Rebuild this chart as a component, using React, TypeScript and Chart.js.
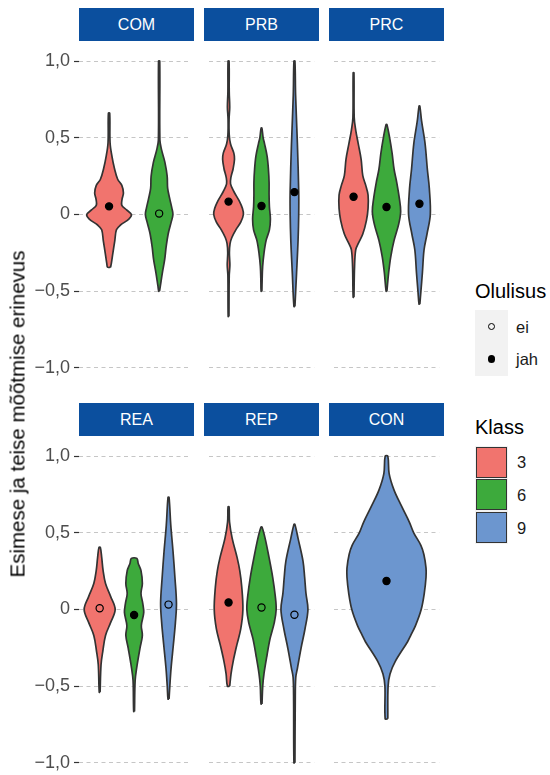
import React, { useEffect, useRef } from "react";
import { Chart, registerables } from "chart.js";

Chart.register(...registerables);

// ---------- data ----------
const FACETS = ["COM", "PRB", "PRC", "REA", "REP", "CON"];
const CLASSES = ["3", "6", "9"];
const CLASS_COLORS = ["#F1746E", "#3DAA3C", "#6C96CF"];
const SIG_LEVELS = ["ei", "jah"];

const Y_TICK_VALUES = [-1, -0.5, 0, 0.5, 1];
const Y_TICK_LABELS = ["\u22121,0", "\u22120,5", "0", "0,5", "1,0"];
const Y_MIN = -1.1;
const Y_MAX = 1.1;

// violin outlines: y values (top -> bottom) and half widths (category units)
const COM_3_y = [0.66, 0.47, 0.38, 0.3, 0.23, 0.19, 0.14, 0.1, 0.06, 0.03, 0.0, -0.03, -0.07, -0.1, -0.17, -0.25, -0.32, -0.344];
const COM_3_w = [0.013, 0.02, 0.057, 0.108, 0.172, 0.255, 0.287, 0.26, 0.255, 0.35, 0.446, 0.395, 0.223, 0.147, 0.115, 0.077, 0.045, 0.03];
const COM_6_y = [1.0, 0.485, 0.42, 0.34, 0.25, 0.17, 0.105, 0.04, 0.0, -0.05, -0.127, -0.21, -0.295, -0.38, -0.464, -0.5];
const COM_6_w = [0.012, 0.015, 0.05, 0.115, 0.16, 0.17, 0.21, 0.255, 0.275, 0.24, 0.18, 0.14, 0.11, 0.064, 0.025, 0.008];

const PRB_3_y = [1.0, 0.8, 0.7, 0.62, 0.52, 0.46, 0.4, 0.36, 0.3, 0.24, 0.2, 0.15, 0.09, 0.04, 0.0, -0.05, -0.1, -0.15, -0.19, -0.25, -0.33, -0.4, -0.665];
const PRB_3_w = [0.015, 0.02, 0.035, 0.015, 0.02, 0.06, 0.16, 0.18, 0.14, 0.07, 0.06, 0.16, 0.32, 0.42, 0.45, 0.37, 0.22, 0.1, 0.045, 0.025, 0.04, 0.02, 0.012];
const PRB_6_y = [0.563, 0.5, 0.464, 0.38, 0.295, 0.21, 0.127, 0.05, -0.03, -0.1, -0.169, -0.253, -0.338, -0.42, -0.5];
const PRB_6_w = [0.012, 0.05, 0.09, 0.17, 0.21, 0.23, 0.23, 0.24, 0.27, 0.24, 0.14, 0.075, 0.035, 0.02, 0.012];
const PRB_9_y = [1.0, 0.78, 0.46, 0.15, 0.0, -0.17, -0.38, -0.6];
const PRB_9_w = [0.015, 0.035, 0.09, 0.13, 0.13, 0.11, 0.065, 0.015];

const PRC_3_y = [0.924, 0.63, 0.55, 0.464, 0.36, 0.253, 0.19, 0.127, 0.04, -0.04, -0.127, -0.19, -0.23, -0.34, -0.54];
const PRC_3_w = [0.012, 0.02, 0.065, 0.14, 0.23, 0.28, 0.37, 0.44, 0.44, 0.39, 0.28, 0.14, 0.065, 0.03, 0.012];
const PRC_6_y = [0.587, 0.506, 0.4, 0.295, 0.21, 0.105, 0.02, -0.063, -0.169, -0.274, -0.38, -0.5];
const PRC_6_w = [0.012, 0.09, 0.17, 0.23, 0.31, 0.39, 0.43, 0.37, 0.23, 0.13, 0.065, 0.012];
const PRC_9_y = [0.707, 0.61, 0.464, 0.295, 0.17, 0.0, -0.127, -0.23, -0.38, -0.5, -0.584];
const PRC_9_w = [0.012, 0.065, 0.17, 0.24, 0.3, 0.33, 0.23, 0.14, 0.09, 0.045, 0.012];

const REA_3_y = [0.405, 0.338, 0.253, 0.169, 0.084, 0.0, -0.084, -0.169, -0.274, -0.36, -0.54];
const REA_3_w = [0.02, 0.06, 0.1, 0.17, 0.32, 0.45, 0.32, 0.17, 0.09, 0.04, 0.012];
const REA_6_y = [0.333, 0.3, 0.253, 0.17, 0.105, 0.042, -0.02, -0.105, -0.169, -0.253, -0.38, -0.464, -0.665];
const REA_6_w = [0.08, 0.12, 0.2, 0.24, 0.2, 0.25, 0.28, 0.21, 0.24, 0.17, 0.075, 0.03, 0.012];
const REA_9_y = [0.732, 0.55, 0.38, 0.21, 0.04, -0.084, -0.23, -0.38, -0.5, -0.584];
const REA_9_w = [0.015, 0.065, 0.13, 0.185, 0.23, 0.2, 0.14, 0.075, 0.037, 0.015];

const REP_3_y = [0.669, 0.57, 0.464, 0.338, 0.253, 0.148, 0.0, -0.127, -0.232, -0.338, -0.42, -0.5];
const REP_3_w = [0.015, 0.03, 0.11, 0.26, 0.34, 0.4, 0.435, 0.37, 0.25, 0.14, 0.075, 0.035];
const REP_6_y = [0.538, 0.464, 0.338, 0.21, 0.084, 0.0, -0.084, -0.19, -0.295, -0.42, -0.5, -0.616];
const REP_6_w = [0.015, 0.11, 0.23, 0.34, 0.42, 0.445, 0.39, 0.26, 0.17, 0.075, 0.037, 0.015];
const REP_9_y = [0.555, 0.464, 0.316, 0.21, 0.105, 0.0, -0.127, -0.253, -0.38, -0.443, -0.59, -1.0];
const REP_9_w = [0.015, 0.11, 0.26, 0.31, 0.35, 0.41, 0.32, 0.2, 0.093, 0.04, 0.025, 0.015];

const CON_9_y = [1.0, 0.886, 0.78, 0.675, 0.57, 0.5, 0.42, 0.36, 0.27, 0.21, 0.105, 0.0, -0.105, -0.17, -0.21, -0.338, -0.42, -0.5, -0.713];
const CON_9_w = [0.015, 0.03, 0.085, 0.17, 0.26, 0.31, 0.39, 0.425, 0.45, 0.45, 0.43, 0.395, 0.33, 0.275, 0.24, 0.1, 0.04, 0.018, 0.015];

// means and significance per facet (same order as classes present)
const COM_classes = ["3", "6"];
const COM_means = [0.053, 0.006];
const COM_sig = ["jah", "ei"];
const PRB_classes = ["3", "6", "9"];
const PRB_means = [0.084, 0.055, 0.146];
const PRB_sig = ["jah", "jah", "jah"];
const PRC_classes = ["3", "6", "9"];
const PRC_means = [0.116, 0.049, 0.07];
const PRC_sig = ["jah", "jah", "jah"];
const REA_classes = ["3", "6", "9"];
const REA_means = [0.008, -0.036, 0.032];
const REA_sig = ["ei", "jah", "ei"];
const REP_classes = ["3", "6", "9"];
const REP_means = [0.046, 0.013, -0.034];
const REP_sig = ["jah", "ei", "ei"];
const CON_classes = ["9"];
const CON_means = [0.186];
const CON_sig = ["jah"];

const PANEL_DATA = [
  { classes: COM_classes, means: COM_means, sig: COM_sig, ys: [COM_3_y, COM_6_y], ws: [COM_3_w, COM_6_w] },
  { classes: PRB_classes, means: PRB_means, sig: PRB_sig, ys: [PRB_3_y, PRB_6_y, PRB_9_y], ws: [PRB_3_w, PRB_6_w, PRB_9_w] },
  { classes: PRC_classes, means: PRC_means, sig: PRC_sig, ys: [PRC_3_y, PRC_6_y, PRC_9_y], ws: [PRC_3_w, PRC_6_w, PRC_9_w] },
  { classes: REA_classes, means: REA_means, sig: REA_sig, ys: [REA_3_y, REA_6_y, REA_9_y], ws: [REA_3_w, REA_6_w, REA_9_w] },
  { classes: REP_classes, means: REP_means, sig: REP_sig, ys: [REP_3_y, REP_6_y, REP_9_y], ws: [REP_3_w, REP_6_w, REP_9_w] },
  { classes: CON_classes, means: CON_means, sig: CON_sig, ys: [CON_9_y], ws: [CON_9_w] },
];

// ---------- layout ----------
const FONT = "'Liberation Sans', Arial, Helvetica, sans-serif";
const STRIP_BG = "#0B4F9E";
const COL_LEFT = [79, 204, 329];
const ROW_TOP = [41, 436];
const PANEL_W = 115;
const PANEL_H = 347;
const STRIP_H = 33;

function colorFor(cls: string) {
  return CLASS_COLORS[CLASSES.indexOf(cls)];
}

function buildChart(canvas: HTMLCanvasElement, p: typeof PANEL_DATA[number], axisW: number, showAxis: boolean) {
  const n = p.classes.length;
  const datasets: any[] = [];
  p.classes.forEach((cls, i) => {
    datasets.push({
      data: [{ x: i + 1, y: p.means[i] }],
      showLine: false,
      pointRadius: 3.6,
      pointHoverRadius: 3.6,
      pointBackgroundColor: p.sig[i] === SIG_LEVELS[1] ? "#000000" : "rgba(0,0,0,0)",
      pointBorderColor: "#000000",
      pointBorderWidth: 1.2,
      order: 0,
    });
  });
  p.classes.forEach((cls, i) => {
    const c = i + 1;
    const ys = p.ys[i];
    const ws = p.ws[i];
    const pts: { x: number; y: number }[] = [];
    for (let k = ys.length - 1; k >= 0; k--) pts.push({ x: c + ws[k], y: ys[k] });
    for (let k = 0; k < ys.length; k++) pts.push({ x: c - ws[k], y: ys[k] });
    pts.push({ ...pts[0] });
    datasets.push({
      data: pts,
      borderColor: "#333333",
      borderWidth: 1.7,
      borderJoinStyle: "round",
      backgroundColor: colorFor(cls),
      fill: "shape",
      pointRadius: 0,
      pointHoverRadius: 0,
      tension: 0.35,
      order: 1,
    });
  });

  return new Chart(canvas, {
    type: "line",
    data: { datasets },
    options: {
      animation: false,
      responsive: false,
      devicePixelRatio: 1,
      events: [],
      layout: { padding: 0 },
      plugins: { legend: { display: false }, tooltip: { enabled: false } },
      scales: {
        x: { type: "linear", min: 0.4, max: n + 0.6, display: false },
        y: {
          type: "linear",
          min: Y_MIN,
          max: Y_MAX,
          afterBuildTicks: (s: any) => {
            s.ticks = Y_TICK_VALUES.map((v) => ({ value: v }));
          },
          afterFit: (s: any) => {
            s.width = axisW;
            s.paddingTop = 0;
            s.paddingBottom = 0;
          },
          ticks: {
            display: showAxis,
            callback: (v: any) => Y_TICK_LABELS[Y_TICK_VALUES.indexOf(Number(v))],
            color: "#4d4d4d",
            font: { family: FONT, size: 18 },
            padding: 4,
          },
          grid: {
            color: "#c6c6c6",
            lineWidth: 1,
            drawTicks: showAxis,
            tickLength: 5,
            tickColor: "#333333",
            tickWidth: 1.2,
          },
          border: { display: false, dash: [4, 3.5] },
        },
      },
    } as any,
  });
}

export default function App() {
  const refs = useRef<(HTMLCanvasElement | null)[]>([]);

  useEffect(() => {
    const charts = PANEL_DATA.map((p, i) => {
      const left = i % 3 === 0;
      return buildChart(refs.current[i]!, p, left ? COL_LEFT[0] : 0, left);
    });
    return () => charts.forEach((c) => c.destroy());
  }, []);

  const canvases = PANEL_DATA.map((p, i) => {
    const col = i % 3;
    const row = Math.floor(i / 3);
    const left = col === 0 ? 0 : COL_LEFT[col];
    const width = col === 0 ? COL_LEFT[0] + PANEL_W : PANEL_W;
    return (
      <canvas
        key={"c" + i}
        ref={(el) => {
          refs.current[i] = el;
        }}
        width={width}
        height={PANEL_H}
        style={{ position: "absolute", left, top: ROW_TOP[row], width, height: PANEL_H }}
      />
    );
  });

  const strips = FACETS.map((f, i) => {
    const col = i % 3;
    const row = Math.floor(i / 3);
    return (
      <div
        key={"s" + i}
        style={{
          position: "absolute",
          left: COL_LEFT[col],
          top: ROW_TOP[row] - STRIP_H,
          width: PANEL_W,
          height: STRIP_H,
          background: STRIP_BG,
          color: "#ffffff",
          fontFamily: FONT,
          fontSize: 16,
          display: "flex",
          alignItems: "center",
          justifyContent: "center",
        }}
      >
        {f}
      </div>
    );
  });

  const textBase: React.CSSProperties = { position: "absolute", fontFamily: FONT, color: "#1a1a1a", whiteSpace: "nowrap" };

  return (
    <div style={{ position: "absolute", left: 0, top: 0, width: 550, height: 775, overflow: "hidden", background: "#ffffff" }}>
      {canvases}
      {strips}
      <div
        style={{
          ...textBase,
          left: 17,
          top: 414,
          fontSize: 20.5,
          lineHeight: "21px",
          transform: "translate(-50%, -50%) rotate(-90deg)",
          color: "#000000",
        }}
      >
        Esimese ja teise mõõtmise erinevus
      </div>

      {/* Olulisus legend */}
      <div style={{ ...textBase, left: 475, top: 281, fontSize: 20, lineHeight: "20px", color: "#000" }}>Olulisus</div>
      <div style={{ position: "absolute", left: 475, top: 310, width: 33, height: 66, background: "#f2f2f2" }} />
      <div
        style={{
          position: "absolute",
          left: 491.5 - 3.6,
          top: 326.7 - 3.6,
          width: 7.2,
          height: 7.2,
          boxSizing: "border-box",
          borderRadius: "50%",
          border: "1.2px solid #000",
        }}
      />
      <div
        style={{
          position: "absolute",
          left: 491.5 - 3.6,
          top: 359 - 3.6,
          width: 7.2,
          height: 7.2,
          borderRadius: "50%",
          background: "#000",
        }}
      />
      <div style={{ ...textBase, left: 516, top: 318, fontSize: 16.5, lineHeight: "18px" }}>{SIG_LEVELS[0]}</div>
      <div style={{ ...textBase, left: 516, top: 350, fontSize: 16.5, lineHeight: "18px" }}>{SIG_LEVELS[1]}</div>

      {/* Klass legend */}
      <div style={{ ...textBase, left: 475, top: 417, fontSize: 20, lineHeight: "20px", color: "#000" }}>Klass</div>
      {CLASSES.map((c, i) => (
        <React.Fragment key={"k" + i}>
          <div
            style={{
              position: "absolute",
              left: 475,
              top: 445.5 + i * 32.8,
              width: 33,
              height: 33,
              background: "#f2f2f2",
            }}
          />
          <div
            style={{
              position: "absolute",
              left: 476,
              top: 446.5 + i * 32.8,
              width: 31,
              height: 31,
              boxSizing: "border-box",
              background: CLASS_COLORS[i],
              border: "1.4px solid #333333",
            }}
          />
          <div style={{ ...textBase, left: 517, top: 453 + i * 32.8, fontSize: 16.5, lineHeight: "18px" }}>{c}</div>
        </React.Fragment>
      ))}
    </div>
  );
}
